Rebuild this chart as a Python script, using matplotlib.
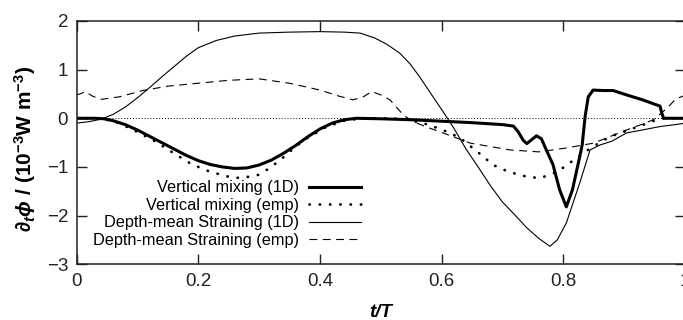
import matplotlib
matplotlib.use("Agg")
import matplotlib.pyplot as plt

plt.rcParams["font.family"] = ["Liberation Sans", "DejaVu Sans"]
plt.rcParams["mathtext.fontset"] = "custom"
plt.rcParams["mathtext.rm"] = "Liberation Sans:bold"
plt.rcParams["mathtext.it"] = "Liberation Sans:bold:italic"
plt.rcParams["mathtext.bf"] = "Liberation Sans:bold"

# Vertical mixing (1D)
mix1d_t = [0, 0.03, 0.045, 0.06, 0.08, 0.10, 0.12, 0.14, 0.16, 0.18, 0.20,
           0.22, 0.24, 0.26, 0.28, 0.30, 0.32, 0.34, 0.36, 0.38, 0.40, 0.42,
           0.44, 0.46, 0.50, 0.55, 0.60, 0.65, 0.70, 0.718, 0.726, 0.734,
           0.740, 0.747, 0.756, 0.764, 0.771, 0.783, 0.794, 0.805,
           0.815, 0.827, 0.831, 0.836, 0.841, 0.849, 0.865, 0.882, 0.904,
           0.930, 0.959, 0.962, 0.965, 1.0]
mix1d_v = [0, 0, -0.01, -0.05, -0.13, -0.24, -0.37, -0.50, -0.63, -0.76, -0.87,
           -0.95, -1.00, -1.03, -1.02, -0.96, -0.86, -0.72, -0.56, -0.38, -0.22,
           -0.10, -0.03, 0, -0.01, -0.03, -0.06, -0.09, -0.13, -0.16, -0.28,
           -0.45, -0.52, -0.45, -0.36, -0.42, -0.62, -0.95, -1.47,
           -1.82, -1.47, -0.79, -0.55, 0.05, 0.44, 0.58, 0.57, 0.57, 0.48,
           0.38, 0.25, 0.10, 0, 0]

# Vertical mixing (emp)
mixemp_t = [0, 0.03, 0.05, 0.07, 0.10, 0.13, 0.16, 0.19, 0.22, 0.25, 0.27,
            0.30, 0.32, 0.34, 0.36, 0.38, 0.41, 0.44, 0.47, 0.50, 0.53, 0.548,
            0.575, 0.602, 0.63, 0.658, 0.685, 0.71, 0.74, 0.762, 0.79, 0.817,
            0.844, 0.876, 0.93, 0.96, 1.0]
mixemp_v = [0, 0, -0.03, -0.10, -0.28, -0.48, -0.72, -0.95, -1.10, -1.20, -1.23,
            -1.16, -1.00, -0.80, -0.58, -0.40, -0.18, -0.05, 0, 0, -0.01, -0.04,
            -0.12, -0.24, -0.40, -0.68, -0.96, -1.10, -1.20, -1.23, -1.10, -0.86,
            -0.62, -0.38, -0.14, 0, 0]

# Depth-mean Straining (1D)
strain1d_t = [0, 0.02, 0.04, 0.06, 0.08, 0.10, 0.12, 0.14, 0.16, 0.18, 0.20,
              0.23, 0.26, 0.30, 0.35, 0.40, 0.44, 0.466, 0.49, 0.51, 0.531,
              0.548, 0.564, 0.58, 0.60, 0.62, 0.64, 0.66, 0.68, 0.70, 0.72,
              0.74, 0.76, 0.778, 0.79, 0.805, 0.827, 0.844, 0.86, 0.88, 0.904,
              0.93, 0.959, 0.99, 1.0]
strain1d_v = [-0.10, -0.07, -0.02, 0.08, 0.23, 0.42, 0.63, 0.85, 1.06, 1.27, 1.45,
              1.60, 1.69, 1.75, 1.77, 1.78, 1.77, 1.75, 1.65, 1.52, 1.34,
              1.12, 0.85, 0.55, 0.18, -0.20, -0.63, -1.00, -1.38, -1.72, -1.98,
              -2.25, -2.47, -2.63, -2.50, -2.15, -1.33, -0.65, -0.55, -0.47, -0.30,
              -0.24, -0.17, -0.12, -0.10]

# Depth-mean Straining (emp)
strainemp_t = [0, 0.008, 0.014, 0.027, 0.041, 0.07, 0.109, 0.15, 0.20, 0.25,
               0.30, 0.35, 0.40, 0.43, 0.454, 0.47, 0.485, 0.50, 0.515, 0.537,
               0.553, 0.58, 0.602, 0.647, 0.712, 0.76, 0.805, 0.85, 0.904, 0.93,
               0.948, 0.97, 0.985, 1.0]
strainemp_v = [0.48, 0.51, 0.55, 0.45, 0.39, 0.44, 0.57, 0.66, 0.72, 0.78,
               0.81, 0.72, 0.58, 0.46, 0.38, 0.43, 0.55, 0.48, 0.38, 0.07,
               -0.07, -0.20, -0.30, -0.51, -0.65, -0.69, -0.61, -0.51, -0.24, -0.12,
               -0.03, 0.20, 0.40, 0.47]

labels = ["Vertical mixing (1D)", "Vertical mixing (emp)",
          "Depth-mean Straining (1D)", "Depth-mean Straining (emp)"]
x_ticks = [0, 0.2, 0.4, 0.6, 0.8, 1.0]
x_tick_labels = ["0", "0.2", "0.4", "0.6", "0.8", "1"]
y_ticks = [-3, -2, -1, 0, 1, 2]

fig = plt.figure(figsize=(6.83, 3.2), dpi=100)
ax = fig.add_axes([0.1121, 0.174, 0.8908, 0.7606])

ax.axhline(0, color="black", linewidth=0.7, linestyle=(0, (1, 2)))

ax.plot(mix1d_t, mix1d_v, color="black", linewidth=2.2, label=labels[0])
ax.plot(mixemp_t, mixemp_v, color="black", linewidth=2.0,
        linestyle=(0, (0.1, 3.6)), dash_capstyle="round", label=labels[1])
ax.plot(strain1d_t, strain1d_v, color="black", linewidth=0.8, label=labels[2])
ax.plot(strainemp_t, strainemp_v, color="black", linewidth=0.8,
        linestyle=(0, (7, 5)), label=labels[3])

ax.set_xlim(0, 1)
ax.set_ylim(-3, 2)
ax.set_xticks(x_ticks)
ax.set_xticklabels(x_tick_labels)
ax.set_yticks(y_ticks)
ax.tick_params(direction="in", length=7, width=1, top=True, right=True,
               labelsize=13.5, pad=6, colors="#222222")
for spine in ax.spines.values():
    spine.set_linewidth(1.1)
    spine.set_color("#222222")

ax.set_xlabel("t/T", fontsize=13.5, fontweight="bold", style="italic")
ax.xaxis.set_label_coords(0.5, -0.163)
ax.set_ylabel(r"$\partial_t\phi$ / (10$^{-3}$W m$^{-3}$)", fontsize=15,
              fontweight="bold")
ax.yaxis.set_label_coords(-0.064, 0.474)

ax.legend(loc="upper right", bbox_to_anchor=(0.467, 0.345), frameon=False,
          markerfirst=False, fontsize=11.7, handlelength=3.2,
          handletextpad=0.6, labelspacing=0.15, borderpad=0,
          borderaxespad=0)

fig.savefig("out.png", dpi=100)
